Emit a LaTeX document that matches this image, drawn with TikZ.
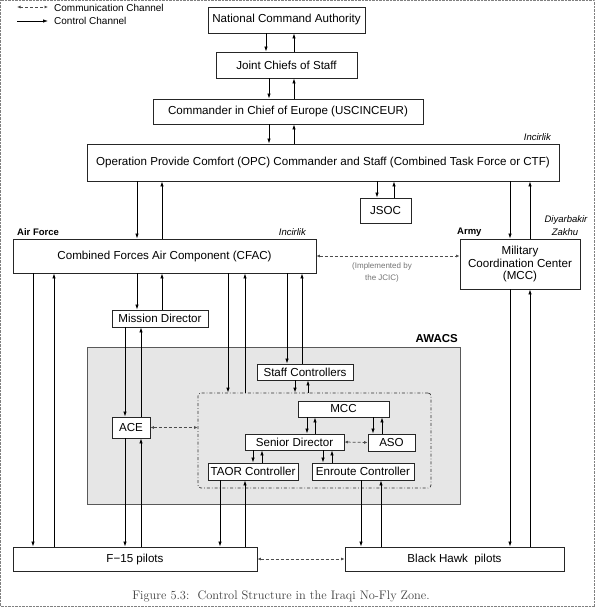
\documentclass[tikz,border=0pt]{standalone}
\usepackage{fontspec}
\setsansfont{Liberation Sans}
\usetikzlibrary{arrows.meta}
\definecolor{awacsgray}{RGB}{230,230,230}
\tikzstyle{unit}=[rectangle, draw=black!85, line width=0.9pt, inner sep=0pt, fill=white, align=center, font=\sffamily\fontsize{11.6}{12.5}\selectfont]
\tikzstyle{group}=[rectangle, draw=black!80, line width=0.7pt, dash dot, rounded corners=3pt, inner sep=0pt]
\tikzstyle{lbl}=[inner sep=0pt, font=\sffamily\fontsize{10}{11}\selectfont]
\tikzstyle{place}=[inner sep=0pt, font=\sffamily\itshape\fontsize{9.5}{11}\selectfont]
\tikzstyle{org}=[inner sep=0pt, font=\sffamily\bfseries\fontsize{9.5}{11}\selectfont]
\tikzstyle{ctrl}=[line width=0.75pt, -{Latex[length=5pt,width=3.5pt]}]
\tikzstyle{comm}=[line width=0.75pt, draw=black!70, dash pattern=on 3pt off 2pt, {Latex[length=3.5pt,width=3pt]}-{Latex[length=3.5pt,width=3pt]}]

\begin{document}
\begin{tikzpicture}[x=1pt, y=-1pt]
				\useasboundingbox (0,0) rectangle (595,607);
				\draw[gray, densely dotted] (0.5,0.5) rectangle (594.5,606.5);
				
				%The legend
				\coordinate (la) at (17,7);
				\coordinate (lb) at (48,7);
				\coordinate (lc) at (17,21);
				\coordinate (ld) at (48,21);
				\draw[comm] (la) -- (lb);
				\draw[ctrl] (lc) -- (ld);
				\draw (54,7.5) node[lbl, anchor=west] (lcomm) {Communication Channel};
				\draw (54,21) node[lbl, anchor=west] (lctrl) {Control Channel};
				
				%The chain of command
				\draw (286.5,20) node[unit, minimum width=157, minimum height=26] (nca) {National Command Authority};
				\draw (286.5,65) node[unit, minimum width=141, minimum height=26] (jcs) {Joint Chiefs of Staff};
				\draw (288,111.5) node[unit, minimum width=270, minimum height=25] (cinc) {Commander in Chief of Europe (USCINCEUR)};
				\draw (323,162.5) node[unit, minimum width=472, minimum height=37] (opc) {Operation Provide Comfort (OPC) Commander and Staff (Combined Task Force or CTF)};
				\draw (385.5,210.5) node[unit, minimum width=51, minimum height=25] (jsoc) {JSOC};
				\draw (164.5,256) node[unit, minimum width=303, minimum height=34] (cfac) {Combined Forces Air Component (CFAC)};
				\draw (520,264) node[unit, minimum width=120, minimum height=50] (mcc) {Military\\Coordination Center\\(MCC)};
				\draw (160,318.5) node[unit, minimum width=96, minimum height=17] (md) {Mission Director};
				
				%The places and services
				\draw (551,137) node[place, anchor=east] (inc1) {Incirlik};
				\draw (17,232) node[org, anchor=west] (af) {Air Force};
				\draw (306,232) node[place, anchor=east] (inc2) {Incirlik};
				\draw (457,232) node[org, anchor=west] (army) {Army};
				\draw (566,220) node[place] (diy) {Diyarbakir};
				\draw (565,232) node[place] (zak) {Zakhu};
				\draw (382,272) node[inner sep=0pt, align=center, text=black!55, font=\sffamily\fontsize{8}{12}\selectfont] (jcic) {(Implemented by\\the JCIC)};
				
				%The AWACS
				\draw[draw=black!65, line width=0.8pt, fill=awacsgray] (87,347) rectangle (460,504);
				\draw (458,339) node[inner sep=0pt, anchor=east, font=\sffamily\bfseries\fontsize{11.5}{13}\selectfont] (awacs) {AWACS};
				\draw (314.5,440.5) node[group, minimum width=233, minimum height=95] (grp) {};
				\draw (305,372) node[unit, minimum width=96, minimum height=16] (sc) {Staff Controllers};
				\draw (131,427.5) node[unit, minimum width=38, minimum height=21] (ace) {ACE};
				\draw (343.5,409) node[unit, minimum width=91, minimum height=16] (imcc) {MCC};
				\draw (294.5,442) node[unit, minimum width=99, minimum height=16] (sd) {Senior Director};
				\draw (391.5,442.5) node[unit, minimum width=47, minimum height=17] (aso) {ASO};
				\draw (253,471.5) node[unit, minimum width=90, minimum height=17] (taor) {TAOR Controller};
				\draw (363,471.5) node[unit, minimum width=102, minimum height=17] (enr) {Enroute Controller};
				
				%The pilots
				\draw (135,559) node[unit, minimum width=244, minimum height=24] (f15) {F−15 pilots};
				\draw (454.5,559) node[unit, minimum width=219, minimum height=24] (bh) {Black Hawk\ \ pilots};
				
				\draw (281,596) node[inner sep=0pt, text=black!75, font=\rmfamily\fontsize{12.4}{14}\selectfont] (cap) {Figure 5.3:\ \ Control Structure in the Iraqi No-Fly Zone.};
				
				%Control channels
				\draw[ctrl] (nca.south -| 266,0) -- (jcs.north -| 266,0);
				\draw[ctrl] (jcs.north -| 294,0) -- (nca.south -| 294,0);
				\draw[ctrl] (jcs.south -| 269,0) -- (cinc.north -| 269,0);
				\draw[ctrl] (cinc.north -| 294,0) -- (jcs.south -| 294,0);
				\draw[ctrl] (cinc.south -| 269,0) -- (opc.north -| 269,0);
				\draw[ctrl] (opc.north -| 294,0) -- (cinc.south -| 294,0);
				\draw[ctrl] (opc.south -| 137,0) -- (cfac.north -| 137,0);
				\draw[ctrl] (cfac.north -| 162,0) -- (opc.south -| 162,0);
				\draw[ctrl] (opc.south -| 377,0) -- (jsoc.north -| 377,0);
				\draw[ctrl] (jsoc.north -| 394,0) -- (opc.south -| 394,0);
				\draw[ctrl] (opc.south -| 510,0) -- (mcc.north -| 510,0);
				\draw[ctrl] (mcc.north -| 530,0) -- (opc.south -| 530,0);
				
				\draw[ctrl] (cfac.south -| 33,0) -- (f15.north -| 33,0);
				\draw[ctrl] (f15.north -| 54,0) -- (cfac.south -| 54,0);
				\draw[ctrl] (cfac.south -| 137,0) -- (md.north -| 137,0);
				\draw[ctrl] (md.north -| 162,0) -- (cfac.south -| 162,0);
				\draw[ctrl] (cfac.south -| 228,0) -- (grp.north -| 228,0);
				\draw[ctrl] (grp.north -| 245,0) -- (cfac.south -| 245,0);
				\draw[ctrl] (cfac.south -| 287,0) -- (sc.north -| 287,0);
				\draw[ctrl] (sc.north -| 302,0) -- (cfac.south -| 302,0);
				
				\draw[ctrl] (md.south -| 125,0) -- (ace.north -| 125,0);
				\draw[ctrl] (ace.north -| 141,0) -- (md.south -| 141,0);
				\draw[ctrl] (ace.south -| 125,0) -- (f15.north -| 125,0);
				\draw[ctrl] (f15.north -| 141,0) -- (ace.south -| 141,0);
				
				\draw[ctrl] (sc.south -| 295,0) -- (grp.north -| 295,0);
				\draw[ctrl] (grp.north -| 308,0) -- (sc.south -| 308,0);
				\draw[ctrl] (imcc.south -| 307,0) -- (sd.north -| 307,0);
				\draw[ctrl] (sd.north -| 315,0) -- (imcc.south -| 315,0);
				\draw[ctrl] (imcc.south -| 373,0) -- (aso.north -| 373,0);
				\draw[ctrl] (aso.north -| 382,0) -- (imcc.south -| 382,0);
				\draw[ctrl] (sd.south -| 253,0) -- (taor.north -| 253,0);
				\draw[ctrl] (taor.north -| 262,0) -- (sd.south -| 262,0);
				\draw[ctrl] (sd.south -| 323,0) -- (enr.north -| 323,0);
				\draw[ctrl] (enr.north -| 332,0) -- (sd.south -| 332,0);
				
				\draw[ctrl] (taor.south -| 220,0) -- (f15.north -| 220,0);
				\draw[ctrl] (f15.north -| 245,0) -- (taor.south -| 245,0);
				\draw[ctrl] (enr.south -| 361,0) -- (bh.north -| 361,0);
				\draw[ctrl] (bh.north -| 381,0) -- (enr.south -| 381,0);
				\draw[ctrl] (mcc.south -| 510,0) -- (bh.north -| 510,0);
				\draw[ctrl] (bh.north -| 530,0) -- (mcc.south -| 530,0);
				
				%Communication channels
				\draw[comm] (cfac.east) -- (cfac.east -| mcc.west);
				\draw[comm] (ace.east) -- (ace.east -| grp.west);
				\draw[comm] (sd.east) -- (aso.west);
				\draw[comm] (f15.east) -- (bh.west);
			\end{tikzpicture}
\end{document}
